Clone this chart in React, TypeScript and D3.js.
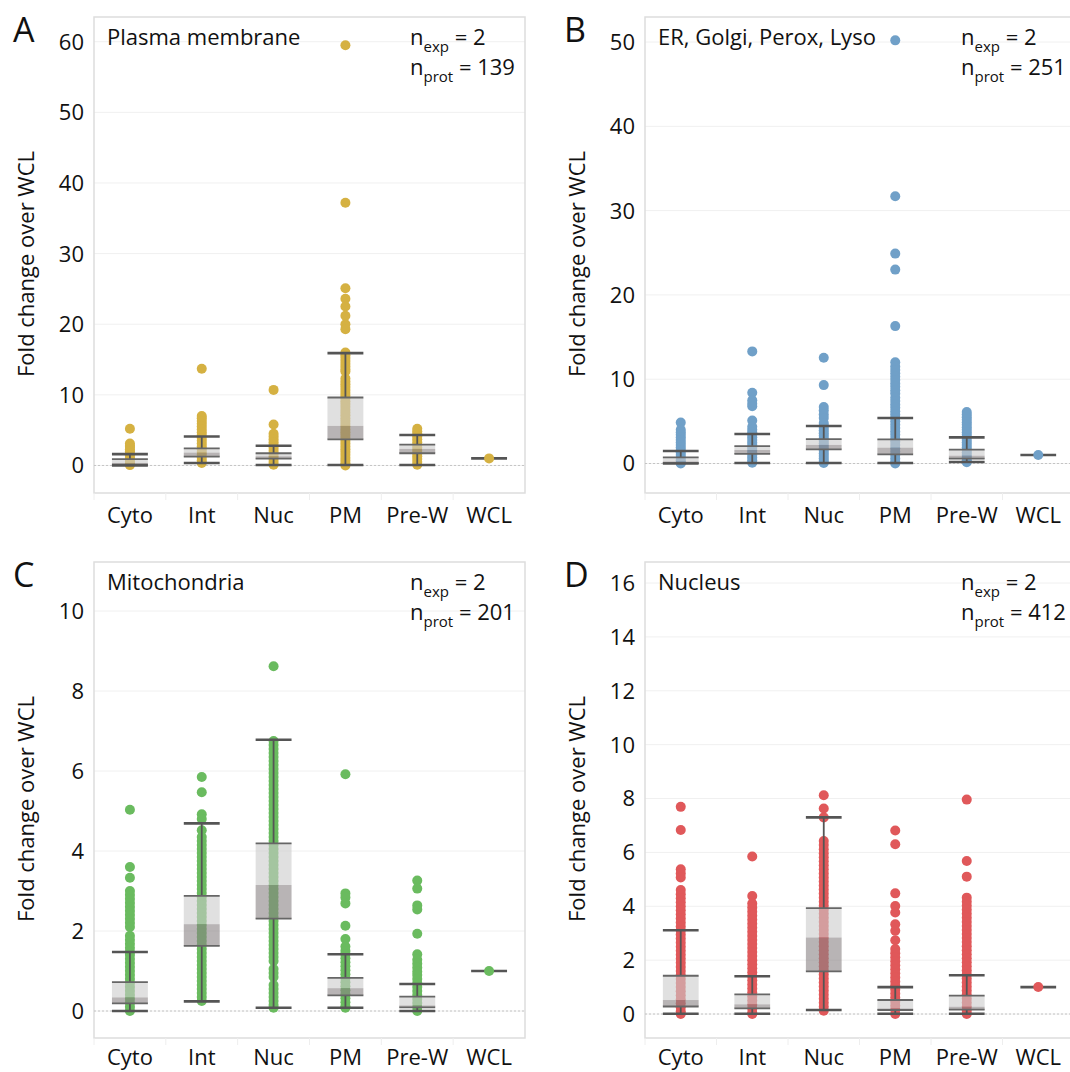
import React from "react";
import * as d3 from "d3";

const categories = ["Cyto", "Int", "Nuc", "PM", "Pre-W", "WCL"];

// ---------- Panel A: Plasma membrane ----------
const pmTicks = [0, 10, 20, 30, 40, 50, 60];
const pmDomain = [-3.9, 63.5];
const pmCyto = [5.2, 3.1, 2.8, 2.6, 2.3, 2.0, 1.7, 1.4, 1.1, 0.8, 0.5, 0.25, 0.05];
const pmInt = [13.7, 7.0, 6.7, 6.3, 5.9, 5.5, 5.1, 4.7, 4.3, 3.9, 3.5, 3.1, 2.7, 2.3, 1.9, 1.5, 1.1, 0.7, 0.35];
const pmNuc = [10.7, 5.8, 4.5, 4.1, 3.7, 3.3, 2.9, 2.5, 2.1, 1.7, 1.3, 0.9, 0.5, 0.1];
const pmPM = [59.5, 37.2, 25.1, 23.6, 22.5, 21.2, 20.0, 19.3, 16.0, 15.6, 15.2, 14.8, 14.4, 14.0, 13.6, 13.3,
  12.3, 11.9, 11.5, 11.1, 10.7, 10.3, 9.9, 9.5, 9.1, 8.7, 8.3, 7.9, 7.5, 7.1, 6.7, 6.3, 5.9, 5.5, 5.1, 4.7,
  4.3, 3.9, 3.5, 3.1, 2.7, 2.3, 1.9, 1.5, 1.1, 0.7, 0.3, 0.0];
const pmPreW = [5.2, 4.85, 4.5, 4.1, 3.7, 3.3, 2.9, 2.5, 2.1, 1.7, 1.3, 0.9, 0.5, 0.1];
const pmWCL = [1];
const pmBoxes = [
  [0.0, 0.1, 0.35, 0.9, 1.6],
  [0.35, 1.25, 1.82, 2.43, 4.1],
  [0.07, 0.97, 1.3, 1.73, 2.8],
  [0.07, 3.7, 5.6, 9.62, 15.9],
  [0.07, 1.73, 2.34, 2.95, 4.32],
  [1, 1, 1, 1, 1],
];

// ---------- Panel B: ER, Golgi, Perox, Lyso ----------
const erTicks = [0, 10, 20, 30, 40, 50];
const erDomain = [-3.5, 52.97];
const erCyto = [4.85, 4.0, 3.7, 3.4, 3.1, 2.8, 2.5, 2.2, 1.9, 1.6, 1.3, 1.0, 0.7, 0.4, 0.1, 0.0];
const erInt = [13.3, 8.4, 7.5, 7.1, 6.8, 5.1, 4.35, 4.0, 3.7, 3.4, 3.1, 2.8, 2.5, 2.2, 1.9, 1.6, 1.3, 1.0, 0.7, 0.4, 0.1];
const erNuc = [12.55, 9.3, 6.7, 6.3, 5.8, 5.4, 4.8, 4.5, 4.2, 3.9, 3.6, 3.3, 3.0, 2.7, 2.4, 2.1, 1.8, 1.5, 1.2, 0.9, 0.6, 0.3, 0.05];
const erPM = [50.2, 31.7, 24.9, 23.0, 16.3, 12.0, 11.5, 11.1, 10.7, 10.3, 9.9, 9.5, 9.1, 8.7, 8.3, 7.8, 7.4, 7.0,
  6.6, 6.2, 5.8, 5.4, 5.0, 4.6, 4.2, 3.8, 3.4, 3.0, 2.6, 2.2, 1.8, 1.4, 1.0, 0.6, 0.2, 0.0];
const erPreW = [6.1, 5.8, 5.5, 5.2, 4.9, 4.6, 4.3, 4.0, 3.7, 3.4, 3.1, 2.8, 2.5, 2.2, 1.9, 1.6, 1.3, 1.0, 0.7, 0.4, 0.15];
const erWCL = [1];
const erBoxes = [
  [0.0, 0.05, 0.25, 0.73, 1.48],
  [0.06, 1.13, 1.6, 2.07, 3.5],
  [0.06, 1.68, 2.2, 2.9, 4.45],
  [0.06, 1.09, 1.88, 2.87, 5.4],
  [0.18, 0.57, 0.93, 1.64, 3.1],
  [1, 1, 1, 1, 1],
];

// ---------- Panel C: Mitochondria ----------
const mitoTicks = [0, 2, 4, 6, 8, 10];
const mitoDomain = [-0.675, 11.225];
const mitoCyto = [5.03, 3.6, 3.33, 3.0, 2.9, 2.8, 2.7, 2.6, 2.5, 2.4, 2.3, 2.2, 2.1, 1.88, 1.78, 1.68, 1.58, 1.48,
  1.4, 1.3, 1.2, 1.1, 1.0, 0.9, 0.8, 0.7, 0.6, 0.5, 0.4, 0.3, 0.2, 0.1, 0.0];
const mitoInt = [5.85, 5.47, 4.92, 4.8, 4.52, 4.35, 4.25, 4.15, 4.05, 3.95, 3.85, 3.75, 3.65, 3.55, 3.45, 3.35,
  3.25, 3.15, 3.05, 2.95, 2.85, 2.75, 2.65, 2.55, 2.45, 2.35, 2.25, 2.15, 2.05, 1.95, 1.85, 1.75, 1.65, 1.55,
  1.45, 1.35, 1.25, 1.15, 1.05, 0.95, 0.85, 0.75, 0.65, 0.55, 0.45, 0.35, 0.25];
const mitoNuc = [8.62, 6.75, 6.65, 6.55, 6.45, 6.35, 6.25, 6.15, 6.05, 5.95, 5.85, 5.75, 5.65, 5.55, 5.45, 5.35,
  5.25, 5.15, 5.05, 4.95, 4.85, 4.75, 4.65, 4.55, 4.45, 4.35, 4.25, 4.15, 4.05, 3.95, 3.85, 3.75, 3.65, 3.55,
  3.45, 3.35, 3.25, 3.15, 3.05, 2.95, 2.85, 2.75, 2.65, 2.55, 2.45, 2.35, 2.25, 2.15, 2.05, 1.95, 1.85, 1.75,
  1.65, 1.55, 1.45, 1.35, 1.25, 1.05, 0.95, 0.85, 0.65, 0.55, 0.45, 0.35, 0.25, 0.15, 0.08];
const mitoPM = [5.92, 2.94, 2.84, 2.69, 2.13, 1.8, 1.61, 1.5, 1.42, 1.32, 1.22, 1.12, 1.02, 0.92, 0.82, 0.72,
  0.62, 0.52, 0.42, 0.32, 0.22, 0.12, 0.08];
const mitoPreW = [3.26, 3.06, 2.64, 2.54, 1.93, 1.42, 1.28, 1.18, 1.08, 0.98, 0.9, 0.8, 0.7, 0.6, 0.5, 0.4, 0.3,
  0.2, 0.1, 0.0];
const mitoWCL = [1];
const mitoBoxes = [
  [0.0, 0.19, 0.34, 0.72, 1.475],
  [0.24, 1.63, 2.17, 2.88, 4.69],
  [0.08, 2.31, 3.15, 4.19, 6.78],
  [0.08, 0.39, 0.57, 0.83, 1.42],
  [0.0, 0.09, 0.14, 0.36, 0.675],
  [1, 1, 1, 1, 1],
];

// ---------- Panel D: Nucleus ----------
const nucTicks = [0, 2, 4, 6, 8, 10, 12, 14, 16];
const nucDomain = [-0.89, 16.78];
const nucCyto = [7.69, 6.83, 5.37, 5.22, 5.07, 4.6, 4.45, 4.3, 4.15, 4.0, 3.85, 3.7, 3.55, 3.4, 3.25, 3.1, 2.95,
  2.8, 2.65, 2.5, 2.35, 2.2, 2.05, 1.9, 1.75, 1.6, 1.45, 1.3, 1.15, 1.0, 0.85, 0.7, 0.55, 0.4, 0.25, 0.1, 0.0];
const nucInt = [5.85, 4.38, 4.1, 3.95, 3.8, 3.65, 3.5, 3.35, 3.2, 3.05, 2.9, 2.75, 2.6, 2.45, 2.3, 2.15, 2.0, 1.85,
  1.7, 1.55, 1.4, 1.25, 1.1, 0.95, 0.8, 0.65, 0.5, 0.35, 0.2, 0.05, 0.0];
const nucNuc = [8.12, 7.63, 7.3, 6.42, 6.27, 6.12, 5.97, 5.82, 5.67, 5.52, 5.37, 5.22, 5.07, 4.92, 4.77, 4.62, 4.47,
  4.32, 4.17, 4.02, 3.87, 3.72, 3.57, 3.42, 3.27, 3.12, 2.97, 2.82, 2.67, 2.52, 2.37, 2.22, 2.07, 1.92, 1.77,
  1.62, 1.47, 1.32, 1.17, 1.02, 0.87, 0.72, 0.57, 0.42, 0.27, 0.12];
const nucPM = [6.81, 6.3, 4.48, 4.01, 3.77, 3.33, 3.09, 2.74, 2.41, 2.26, 2.11, 1.96, 1.81, 1.66, 1.51, 1.36, 1.21,
  1.06, 0.91, 0.76, 0.61, 0.46, 0.31, 0.16, 0.0];
const nucPreW = [7.96, 5.68, 5.1, 4.32, 4.17, 4.02, 3.87, 3.72, 3.57, 3.42, 3.27, 3.12, 2.97, 2.82, 2.67, 2.52,
  2.37, 2.22, 2.07, 1.92, 1.77, 1.62, 1.47, 1.32, 1.17, 1.02, 0.87, 0.72, 0.57, 0.42, 0.27, 0.12, 0.0];
const nucWCL = [1];
const nucBoxes = [
  [0.01, 0.28, 0.52, 1.42, 3.11],
  [0.01, 0.21, 0.36, 0.73, 1.4],
  [0.15, 1.58, 2.84, 3.93, 7.3],
  [0.01, 0.15, 0.21, 0.52, 1.0],
  [0.01, 0.16, 0.27, 0.68, 1.44],
  [1, 1, 1, 1, 1],
];

const FONT = "'Open Sans', 'Noto Sans', sans-serif";
const FS = 22;
const R = 5;

type PanelProps = {
  left: number;
  top: number;
  width: number;
  height: number;
  domain: number[];
  ticks: number[];
  color: string;
  dots: number[][];
  boxes: number[][];
  letter: string;
  title: string;
  nExp: string;
  nProt: string;
  xLabelOffset: number;
};

function Panel(p: PanelProps) {
  const { left, top, width, height, domain, ticks, color, dots, boxes } = p;
  const bottom = top + height;
  const right = left + width;
  const y = d3.scaleLinear().domain(domain).range([bottom, top]);
  const x = d3.scaleBand().domain(categories).range([left, right]).padding(0);
  const bw = x.bandwidth();
  const boxW = bw * 0.5;
  const dark = "#555";

  return (
    <g>
      {ticks.map((t) => (
        <line key={"g" + t} x1={left} x2={right} y1={y(t)} y2={y(t)} stroke="#f0f0f0" strokeWidth={1} />
      ))}
      <rect x={left} y={top} width={width} height={height} fill="none" stroke="#dddddd" strokeWidth={1.5} />
      {categories.map((c) => (
        <line key={"xt" + c} x1={x(c)!} x2={x(c)!} y1={bottom} y2={bottom + 7} stroke="#eeeeee" strokeWidth={1} />
      ))}
      <line x1={left} x2={right} y1={y(0)} y2={y(0)} stroke="#c4c4c4" strokeWidth={1} strokeDasharray="2,2" />
      {categories.map((c, i) => {
        const cx = x(c)! + bw / 2;
        const b = boxes[i];
        if (b[1] === b[3]) return null;
        return (
          <g key={"d" + c}>
            {dots[i].map((v, j) => (
              <circle key={j} cx={cx} cy={y(v)} r={R} fill={color} />
            ))}
          </g>
        );
      })}
      {categories.map((c, i) => {
        const cx = x(c)! + bw / 2;
        const [lo, q1, med, q3, hi] = boxes[i];
        const x0 = cx - boxW / 2;
        const x1 = cx + boxW / 2;
        return (
          <g key={"b" + c}>
            {q3 > q1 && (
              <>
                <rect x={x0} y={y(q3)} width={boxW} height={y(med) - y(q3)} fill="#cbcbcb" fillOpacity={0.6} />
                <rect x={x0} y={y(med)} width={boxW} height={y(q1) - y(med)} fill="#898283" fillOpacity={0.6} />
                <line x1={cx} x2={cx} y1={y(hi)} y2={y(q3)} stroke={dark} strokeWidth={1.8} />
                <line x1={cx} x2={cx} y1={y(q1)} y2={y(lo)} stroke={dark} strokeWidth={1.8} />
                <line x1={x0} x2={x1} y1={y(q3)} y2={y(q3)} stroke="#666" strokeWidth={1.8} />
                <line x1={x0} x2={x1} y1={y(q1)} y2={y(q1)} stroke="#666" strokeWidth={1.8} />
                <line x1={x0} x2={x1} y1={y(lo)} y2={y(lo)} stroke={dark} strokeWidth={2.6} />
              </>
            )}
            <line x1={x0} x2={x1} y1={y(hi)} y2={y(hi)} stroke={dark} strokeWidth={2.6} />
          </g>
        );
      })}
      {categories.map((c, i) => {
        const cx = x(c)! + bw / 2;
        const b = boxes[i];
        if (b[1] !== b[3]) return null;
        return (
          <g key={"dw" + c}>
            {dots[i].map((v, j) => (
              <circle key={j} cx={cx} cy={y(v)} r={R} fill={color} />
            ))}
          </g>
        );
      })}
      {ticks.map((t) => (
        <text key={"yl" + t} x={left - 10} y={y(t)} dy="0.36em" textAnchor="end" fontSize={FS} fill="#111" fontFamily={FONT}>
          {t}
        </text>
      ))}
      {categories.map((c) => (
        <text key={"xl" + c} x={x(c)! + bw / 2} y={bottom + p.xLabelOffset} textAnchor="middle" fontSize={FS} fill="#111" fontFamily={FONT}>
          {c}
        </text>
      ))}
      <text
        transform={`translate(${left - 60},${(top + bottom) / 2 + 9}) rotate(-90)`}
        textAnchor="middle"
        fontSize={FS}
        fill="#111"
        fontFamily={FONT}
      >
        Fold change over WCL
      </text>
      <text x={left - 81} y={top + 25} fontSize={34} fill="#111" fontFamily={FONT}>
        {p.letter}
      </text>
      <text x={left + 13} y={top + 28} fontSize={FS} fill="#111" fontFamily={FONT}>
        {p.title}
      </text>
      <text x={left + 316} y={top + 28} fontSize={FS} fill="#111" fontFamily={FONT}>
        <tspan>n</tspan>
        <tspan dy={7} fontSize={15}>exp</tspan>
        <tspan dy={-7}> = {p.nExp}</tspan>
      </text>
      <text x={left + 316} y={top + 58} fontSize={FS} fill="#111" fontFamily={FONT}>
        <tspan>n</tspan>
        <tspan dy={7} fontSize={15}>prot</tspan>
        <tspan dy={-7}> = {p.nProt}</tspan>
      </text>
    </g>
  );
}

export default function App() {
  return (
    <svg
      width={1070}
      height={1072}
      style={{ position: "absolute", left: 0, top: 0, display: "block", background: "#fff" }}
    >
      <rect x={0} y={0} width={1070} height={1072} fill="#fff" />
      <Panel
        left={94} top={17} width={431} height={476}
        domain={pmDomain} ticks={pmTicks} color="#d5b142"
        dots={[pmCyto, pmInt, pmNuc, pmPM, pmPreW, pmWCL]} boxes={pmBoxes}
        letter="A" title="Plasma membrane" nExp="2" nProt="139" xLabelOffset={30}
      />
      <Panel
        left={645} top={17} width={429} height={476}
        domain={erDomain} ticks={erTicks} color="#70a0c8"
        dots={[erCyto, erInt, erNuc, erPM, erPreW, erWCL]} boxes={erBoxes}
        letter="B" title="ER, Golgi, Perox, Lyso" nExp="2" nProt="251" xLabelOffset={30}
      />
      <Panel
        left={94} top={562} width={431} height={476}
        domain={mitoDomain} ticks={mitoTicks} color="#6abb5f"
        dots={[mitoCyto, mitoInt, mitoNuc, mitoPM, mitoPreW, mitoWCL]} boxes={mitoBoxes}
        letter="C" title="Mitochondria" nExp="2" nProt="201" xLabelOffset={27}
      />
      <Panel
        left={645} top={562} width={429} height={476}
        domain={nucDomain} ticks={nucTicks} color="#e0585a"
        dots={[nucCyto, nucInt, nucNuc, nucPM, nucPreW, nucWCL]} boxes={nucBoxes}
        letter="D" title="Nucleus" nExp="2" nProt="412" xLabelOffset={27}
      />
    </svg>
  );
}
